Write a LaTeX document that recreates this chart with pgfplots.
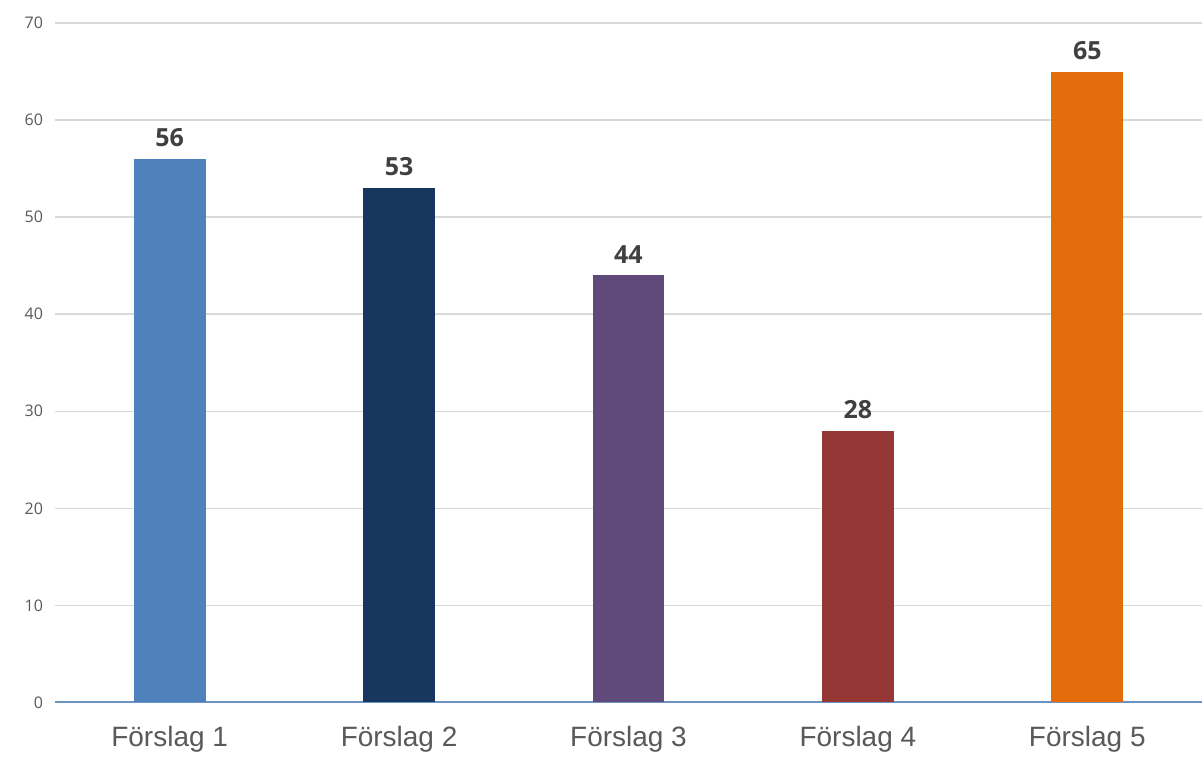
\documentclass[border=0pt]{standalone}
\usepackage{pgfplots}
\pgfplotsset{compat=1.18}
\usepackage{fontspec}
\setmainfont{Open Sans}
\newfontfamily\arialfont{Liberation Sans}

\definecolor{barA}{HTML}{4F81BD}
\definecolor{barB}{HTML}{17375E}
\definecolor{barC}{HTML}{604A7B}
\definecolor{barD}{HTML}{953735}
\definecolor{barE}{HTML}{E46C0A}
\definecolor{baseline}{HTML}{6A93C2}
\definecolor{gridgray}{HTML}{D9D9D9}
\definecolor{ticktext}{HTML}{595959}
\definecolor{valtext}{HTML}{404040}

\begin{document}
\begin{tikzpicture}
\begin{axis}[
  name=ax,
  scale only axis,
  width=574pt, height=340pt,
  xmin=-0.5, xmax=4.5,
  ymin=0, ymax=70,
  ytick={0,10,...,70},
  xtick={0,1,2,3,4},
  xticklabels={Förslag 1,Förslag 2,Förslag 3,Förslag 4,Förslag 5},
  /pgf/number format/assume math mode=true,
  ybar, bar width=36pt, bar shift=0pt,
  axis x line*=bottom, axis y line*=left,
  y axis line style={draw=none},
  x axis line style={draw=baseline, line width=1pt, -},
  major tick length=0pt,
  ymajorgrids, grid style={gridgray, line width=0.7pt},
  yticklabel style={font=\fontsize{8}{9}\selectfont, text=ticktext, xshift=-2.5pt},
  xticklabel style={font=\arialfont\fontsize{14}{16}\selectfont, text=ticktext, yshift=-8.5pt},
  nodes near coords,
  every node near coord/.append style={font=\bfseries\fontsize{12.5}{14}\selectfont, text=valtext, yshift=2.5pt},
]
\addplot[fill=barA, draw=none] coordinates {(0,56)};
\addplot[fill=barB, draw=none] coordinates {(1,53)};
\addplot[fill=barC, draw=none] coordinates {(2,44)};
\addplot[fill=barD, draw=none] coordinates {(3,28)};
\addplot[fill=barE, draw=none] coordinates {(4,65)};
\end{axis}
\path ([xshift=-27.5pt, yshift=-26.5pt]ax.south west) rectangle ([yshift=11.5pt]ax.north east);
\end{tikzpicture}
\end{document}
